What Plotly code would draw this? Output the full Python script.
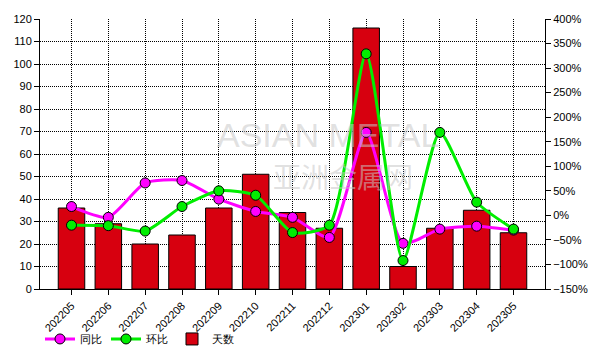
import plotly.graph_objects as go

months = ["202205","202206","202207","202208","202209","202210","202211","202212",
          "202301","202302","202303","202304","202305"]
days = [36, 29, 20, 24, 36, 51, 34, 27, 116, 10, 27, 35, 25]
yoy = [18, -4, 66, 71, 33, 8, -4, -45, 169, -57, -28, -22, -30]
mom = [-20, -21, -32, 18, 50, 41, -35, -20, 329, -92, 169, 27, -28]

font = dict(family="Liberation Sans, Arial, sans-serif", size=11, color="#000")

fig = go.Figure()
fig.add_trace(go.Scatter(x=months, y=yoy, name="同比", mode="lines+markers", yaxis="y2",
                         line=dict(color="#FF00FF", width=3, shape="spline", smoothing=0.6),
                         marker=dict(size=10, color="#FF00FF", line=dict(color="#000", width=1))))
fig.add_trace(go.Scatter(x=months, y=mom, name="环比", mode="lines+markers", yaxis="y2",
                         line=dict(color="#00EE00", width=3, shape="spline", smoothing=0.6),
                         marker=dict(size=10, color="#00EE00", line=dict(color="#000", width=1))))
fig.add_trace(go.Bar(x=months, y=days, name="天数", marker=dict(color="#D7000F", line=dict(color="#000", width=1)),
                     width=0.72, yaxis="y"))

fig.add_annotation(text="ASIAN METAL", x=0.57, y=0.57, xref="paper", yref="paper", showarrow=False,
                   font=dict(family="Liberation Sans", size=34, color="rgba(200,200,200,0.55)"))
fig.add_annotation(text="亚洲金属网", x=0.6, y=0.42, xref="paper", yref="paper", showarrow=False,
                   font=dict(family="Noto Sans CJK SC", size=28, color="rgba(200,200,200,0.55)"))

grid = dict(showgrid=True, gridcolor="#000", griddash="1px,1px", gridwidth=1)

fig.update_layout(
    width=605, height=355, margin=dict(l=32, r=68, t=11, b=74, autoexpand=False),
    paper_bgcolor="white", plot_bgcolor="white", font=font,
    bargap=0.28, showlegend=True,
    legend=dict(orientation="h", x=0.0, y=-0.185, xref="paper", yref="paper", xanchor="left", yanchor="middle",
                traceorder="normal", font=dict(size=11), itemwidth=30, entrywidth=21, entrywidthmode="pixels",
                bgcolor="rgba(0,0,0,0)"),
    xaxis=dict(type="category", tickangle=-45, **grid,
               showline=True, linecolor="#000", linewidth=1, ticks="outside", ticklen=5, tickcolor="#000",
               tickfont=dict(size=11), automargin=False),
    yaxis=dict(range=[0, 120], dtick=10, **grid,
               showline=True, linecolor="#000", linewidth=1, ticks="outside", ticklen=5, tickcolor="#000",
               zeroline=False, automargin=False),
    yaxis2=dict(range=[-150, 400], dtick=50, overlaying="y", side="right", ticksuffix="%",
                showgrid=False, showline=True, linecolor="#000", linewidth=1, ticks="outside", ticklen=5,
                tickcolor="#000", zeroline=False, automargin=False),
)
fig.write_html("out.html")
